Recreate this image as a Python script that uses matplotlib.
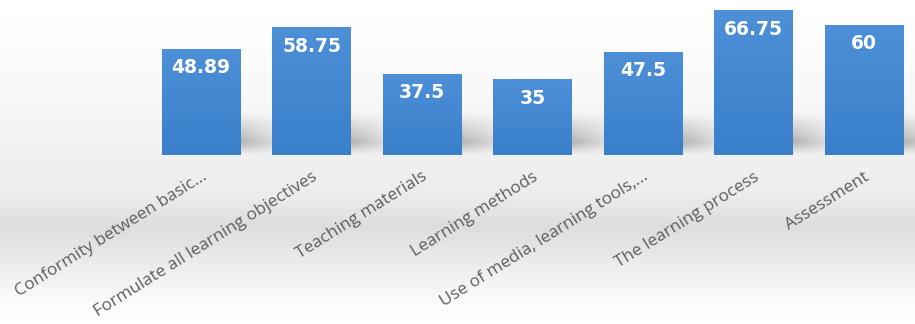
import numpy as np
import matplotlib.pyplot as plt
from matplotlib.colors import LinearSegmentedColormap

categories = [
    "Conformity between basic...",
    "Formulate all learning objectives",
    "Teaching materials",
    "Learning methods",
    "Use of media, learning tools,...",
    "The learning process",
    "Assessment",
]
values = [48.89, 58.75, 37.5, 35, 47.5, 66.75, 60]
value_labels = ["48.89", "58.75", "37.5", "35", "47.5", "66.75", "60"]

fig = plt.figure(figsize=(9.15, 3.24), dpi=100)

# ---- BACKGROUND (soft grey floor band) ----
bg_ax = fig.add_axes([0, 0, 1, 1], zorder=0)
rows = np.linspace(0, 1, 324)
stops_y = [0.0, 0.25, 0.45, 0.60, 0.70, 0.80, 0.92, 1.0]
stops_v = [1.0, 0.975, 0.945, 0.925, 0.865, 0.915, 0.975, 1.0]
shade = np.interp(rows, stops_y, stops_v)
bg_ax.imshow(shade[:, None], aspect="auto", cmap="gray", vmin=0, vmax=1,
             extent=[0, 1, 1, 0])
bg_ax.set_xlim(0, 1)
bg_ax.set_ylim(1, 0)
bg_ax.axis("off")

# ---- MAIN AXES ----
ax = fig.add_axes([146 / 915, 169 / 324, (919 - 146) / 915, 155 / 324], zorder=1)
ax.patch.set_alpha(0)

x = np.arange(len(categories))
width = 0.71
bars = ax.bar(x, values, width=width, color="none", edgecolor="none", zorder=3)

# ---- SHADOWS BETWEEN BARS ----
sh_y = np.linspace(0, 1, 60)[:, None]
sh_x = np.linspace(0, 1, 40)[None, :]
shadow = np.clip(1 - np.abs(sh_y - 0.3) / np.where(sh_y < 0.3, 0.3, 0.7), 0, 1) \
    * (1 - 0.6 * sh_x)
shadow_rgba = np.zeros((60, 40, 4))
shadow_rgba[..., :3] = 0.5
shadow_rgba[..., 3] = shadow * 0.55
for bar in bars:
    x0 = bar.get_x() + bar.get_width()
    ax.imshow(shadow_rgba, aspect="auto", origin="lower", interpolation="bilinear",
              extent=[x0, x0 + (1 - width), 0, 19], zorder=2)

# ---- GRADIENT BARS ----
bar_cmap = LinearSegmentedColormap.from_list("barblue", ["#3a7fca", "#4d90d8"])
grad = np.linspace(0, 1, 100)[:, None]
for bar in bars:
    bx, by = bar.get_x(), bar.get_y()
    bw, bh = bar.get_width(), bar.get_height()
    im = ax.imshow(grad, aspect="auto", origin="lower", cmap=bar_cmap,
                   extent=[bx, bx + bw, by, by + bh], zorder=3)
    im.set_clip_path(bar)

ax.set_xlim(-0.5, 6.5)
ax.set_ylim(0, 71.4)

# ---- VALUE LABELS ----
for xi, v, lab in zip(x, values, value_labels):
    ax.annotate(lab, (xi, v), xytext=(0, -19), textcoords="offset pixels",
                ha="center", va="center", color="white", fontsize=13.5,
                fontweight="bold", family="DejaVu Sans", zorder=4)

# ---- AXIS STYLE ----
for s in ax.spines.values():
    s.set_visible(False)
ax.set_yticks([])
ax.set_xticks(x)
ax.set_xticklabels(categories, rotation=32, ha="right", rotation_mode="anchor",
                   fontsize=12.3, color="#5e5e5e", family="Open Sans")
ax.tick_params(axis="x", length=0, pad=10)

fig.savefig("out.png", dpi=100)
